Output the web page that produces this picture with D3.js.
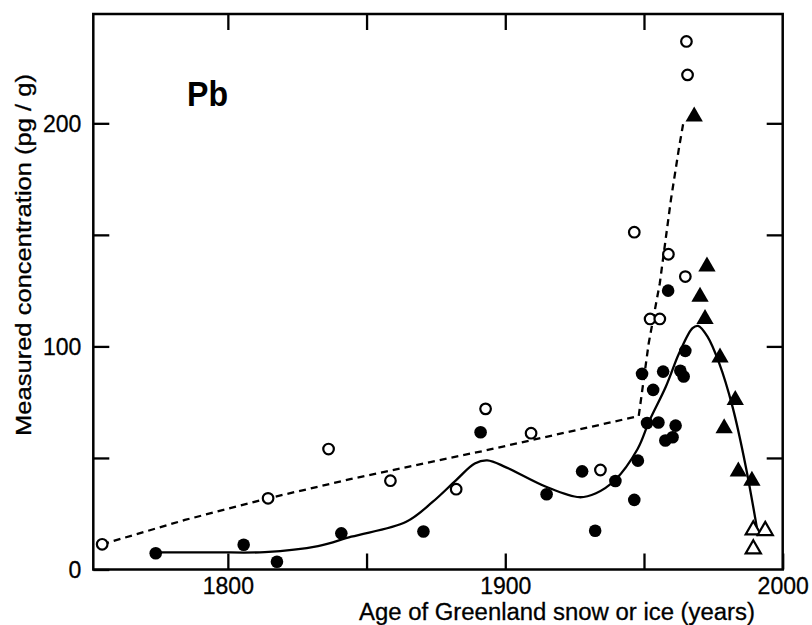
<!DOCTYPE html>
<html>
<head>
<meta charset="utf-8">
<script src="https://cdn.jsdelivr.net/npm/d3@7"></script>
<style>
  html, body { margin: 0; padding: 0; background: #fff; }
  svg { display: block; font-family: "Liberation Sans", Arial, Helvetica, sans-serif; }
</style>
</head>
<body>
<svg id="chart" width="812" height="625"></svg>
<script>
// ---- Data (year, concentration pg/g) ----
const openCircles = [
  [1754.7, 11.3], [1814.5, 31.9], [1836.3, 54.0], [1858.6, 39.8], [1882.3, 36.0],
  [1892.9, 72.0], [1909.3, 61.1], [1934.3, 44.6], [1946.5, 151.2], [1958.8, 141.3],
  [1964.9, 131.3], [1952.2, 112.3], [1955.7, 112.3], [1965.3, 236.7], [1965.7, 221.7]
];
const filledCircles = [
  [1774.0, 7.3], [1805.7, 11.1], [1817.7, 3.5], [1840.9, 16.2], [1870.5, 17.0],
  [1891.1, 61.5], [1914.9, 33.7], [1927.7, 44.0], [1932.4, 17.4], [1939.7, 39.7],
  [1946.5, 31.2], [1947.8, 48.8], [1949.3, 87.7], [1953.3, 80.5], [1951.1, 65.7],
  [1955.2, 65.9], [1956.9, 88.7], [1958.7, 125.0], [1957.7, 57.8], [1960.3, 59.3],
  [1961.4, 64.5], [1963.1, 89.1], [1964.3, 86.5], [1964.9, 98.0]
];
const filledTriangles = [
  [1968.1, 203.0], [1972.7, 135.8], [1970.2, 122.3], [1972.0, 112.3], [1977.4, 95.0],
  [1982.9, 76.0], [1978.9, 63.3], [1984.0, 43.9], [1988.9, 39.8]
];
const openTriangles = [
  [1989.4, 17.7], [1993.7, 17.4], [1989.4, 9.2]
];
// dashed trend (older data)
const dashedTrend = [
  [1754.7, 11.3], [1784.5, 22.2], [1814.5, 31.9], [1844.5, 40.6], [1891.9, 53.1],
  [1937.5, 65.8], [1948.1, 68.8], [1951.7, 101.4], [1955.7, 128.3], [1959.7, 165.7],
  [1962.7, 189.6], [1964.3, 201.0]
];
// solid smooth trend
const solidTrend = [
  [1774.0, 7.7], [1795, 7.7], [1813.3, 7.8], [1832.5, 10.5], [1844.5, 14.7],
  [1864.3, 21.4], [1873.9, 30.4], [1882.3, 40.1], [1889, 47.5], [1893.5, 48.9],
  [1900.3, 45.8], [1914.7, 37.1], [1926.7, 32.4], [1932.7, 34.2], [1939.5, 40.0],
  [1947.7, 54.0], [1951.9, 66.5], [1957.9, 82.0], [1962.7, 97.0], [1967.5, 108.2],
  [1969.5, 109.2], [1972.9, 104.4], [1977.1, 92.5], [1981.9, 73.0], [1986.7, 46.1],
  [1991.2, 15.0]
];
const xTicks = [1800, 1850, 1900, 1950, 2000];
const xLabels = [1800, 1900, 2000];
const yTicks = [0, 50, 100, 150, 200];
const yLabels = [0, 100, 200];

// ---- Layout ----
const svg = d3.select("#chart");
const L = 93.3, R = 782.7, T = 14, B = 569.5;
const x = d3.scaleLinear().domain([1751.5, 2000]).range([L, R]);
const y = d3.scaleLinear().domain([0, 249]).range([B, T]);

const fontSize = 23;
const sw = 2.3;

// Axes with inward ticks
const gB = svg.append("g").attr("transform", `translate(0,${B})`)
  .call(d3.axisBottom(x).tickValues(xTicks).tickSizeInner(-16).tickSizeOuter(0).tickPadding(8)
    .tickFormat(d => xLabels.includes(d) ? d3.format("d")(d) : ""));
const gT = svg.append("g").attr("transform", `translate(0,${T})`)
  .call(d3.axisTop(x).tickValues(xTicks.filter(d => d < 2000)).tickSizeInner(-16).tickSizeOuter(0).tickFormat(""));
const gL = svg.append("g").attr("transform", `translate(${L},0)`)
  .call(d3.axisLeft(y).tickValues(yTicks).tickSizeInner(-16).tickSizeOuter(0).tickPadding(12)
    .tickFormat(d => yLabels.includes(d) ? d : ""));
const gR = svg.append("g").attr("transform", `translate(${R},0)`)
  .call(d3.axisRight(y).tickValues(yTicks.filter(d => d > 0)).tickSizeInner(-16).tickSizeOuter(0).tickFormat(""));

[gB, gT, gL, gR].forEach(g => {
  g.select(".domain").remove();
  g.selectAll(".tick line").attr("stroke", "#000").attr("stroke-width", sw);
  g.selectAll(".tick text").attr("fill", "#000").style("font-size", fontSize + "px")
    .style("font-family", "'Liberation Sans', Arial, sans-serif")
    .attr("stroke", "#000").attr("stroke-width", 0.3);
});
gL.selectAll(".tick text").attr("dy", "0.36em");

// Frame
svg.append("rect").attr("x", L).attr("y", T).attr("width", R - L).attr("height", B - T)
  .attr("fill", "none").attr("stroke", "#000").attr("stroke-width", 2.5);

// Lines
svg.append("path").datum(dashedTrend)
  .attr("d", d3.line().x(d => x(d[0])).y(d => y(d[1])).curve(d3.curveLinear))
  .attr("fill", "none").attr("stroke", "#000").attr("stroke-width", sw)
  .attr("stroke-dasharray", "7,5");
svg.append("path").datum(solidTrend)
  .attr("d", d3.line().x(d => x(d[0])).y(d => y(d[1])).curve(d3.curveCatmullRom.alpha(0.5)))
  .attr("fill", "none").attr("stroke", "#000").attr("stroke-width", sw);

// Markers
svg.append("g").selectAll("circle").data(openCircles).join("circle")
  .attr("cx", d => x(d[0])).attr("cy", d => y(d[1])).attr("r", 5.3)
  .attr("fill", "#fff").attr("stroke", "#000").attr("stroke-width", 2.2);
svg.append("g").selectAll("circle").data(filledCircles).join("circle")
  .attr("cx", d => x(d[0])).attr("cy", d => y(d[1])).attr("r", 6.3)
  .attr("fill", "#000");
const triFilled = d3.symbol(d3.symbolTriangle, 130);
const triOpen = d3.symbol(d3.symbolTriangle, 100);
svg.append("g").selectAll("path").data(filledTriangles).join("path")
  .attr("transform", d => `translate(${x(d[0])},${y(d[1])})`)
  .attr("d", triFilled).attr("fill", "#000");
svg.append("g").selectAll("path").data(openTriangles).join("path")
  .attr("transform", d => `translate(${x(d[0])},${y(d[1])})`)
  .attr("d", triOpen).attr("fill", "#fff").attr("stroke", "#000").attr("stroke-width", 2.2);

// Texts
svg.append("text").attr("x", 187).attr("y", 106)
  .attr("font-size", 35).attr("font-weight", "bold")
  .attr("textLength", 41).attr("lengthAdjust", "spacingAndGlyphs")
  .text("Pb");
svg.append("text").attr("x", 359).attr("y", 620)
  .attr("font-size", fontSize)
  .attr("stroke", "#000").attr("stroke-width", 0.3)
  .attr("textLength", 396).attr("lengthAdjust", "spacingAndGlyphs")
  .text("Age of Greenland snow or ice (years)");
svg.append("text").attr("transform", "translate(31,436) rotate(-90)")
  .attr("font-size", 22)
  .attr("stroke", "#000").attr("stroke-width", 0.3)
  .attr("textLength", 362).attr("lengthAdjust", "spacingAndGlyphs")
  .text("Measured concentration  (pg / g)");
</script>
</body>
</html>
